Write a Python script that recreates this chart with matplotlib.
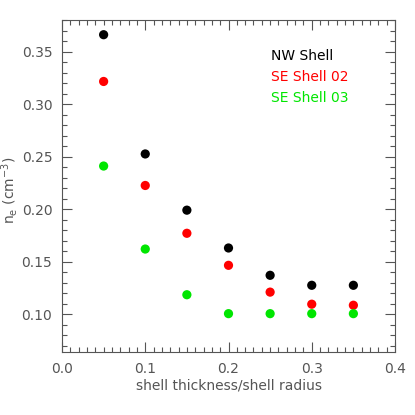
import matplotlib
matplotlib.use('Agg')
import matplotlib.pyplot as plt
from matplotlib.ticker import MultipleLocator

# shell thickness / shell radius
ratio = [0.05, 0.10, 0.15, 0.20, 0.25, 0.30, 0.35]
nw_shell = [0.366, 0.2525, 0.199, 0.163, 0.137, 0.1275, 0.1275]
se_shell_02 = [0.3215, 0.2225, 0.177, 0.1465, 0.121, 0.1095, 0.1085]
se_shell_03 = [0.241, 0.162, 0.1185, 0.1005, 0.1005, 0.1005, 0.1005]

labels = ['NW Shell', 'SE Shell 02', 'SE Shell 03']
colors = ['black', '#ff0000', '#00e600']
gray = '#555555'

fig = plt.figure(figsize=(4.15, 4.15), dpi=100)
ax = fig.add_axes([62 / 415, 63 / 415, 333 / 415, 332 / 415])

for ys, c in zip([nw_shell, se_shell_02, se_shell_03], colors):
    ax.scatter(ratio, ys, s=44, color=c, edgecolors='none', zorder=3)

# text legend in the upper right
for i, (lab, c) in enumerate(zip(labels, colors)):
    ax.text(0.251, 0.3455 - i * 0.02, lab, color=c, fontsize=10, va='center', ha='left')

ax.set_xlim(0.0, 0.4)
ax.set_ylim(0.064, 0.380)
ax.xaxis.set_major_locator(MultipleLocator(0.1))
ax.xaxis.set_minor_locator(MultipleLocator(0.01))
ax.yaxis.set_major_locator(MultipleLocator(0.05))
ax.yaxis.set_minor_locator(MultipleLocator(0.01))
ax.xaxis.set_major_formatter(plt.FormatStrFormatter('%.1f'))
ax.yaxis.set_major_formatter(plt.FormatStrFormatter('%.2f'))

ax.tick_params(which='both', direction='in', top=True, right=True, colors=gray,
               labelcolor=gray, labelsize=10, width=0.8)
ax.tick_params(which='major', length=7, pad=7)
ax.tick_params(which='minor', length=3.5)
for sp in ax.spines.values():
    sp.set_color(gray)
    sp.set_linewidth(0.8)

ax.set_xlabel('shell thickness/shell radius', color=gray, fontsize=10, labelpad=2)
fig.text(9 / 415, 1 - 190 / 415, r'n$_{\rm e}$ (cm$^{-3}$)', rotation=90, color=gray,
         fontsize=10, ha='center', va='center')

fig.savefig('out.png', dpi=100)
